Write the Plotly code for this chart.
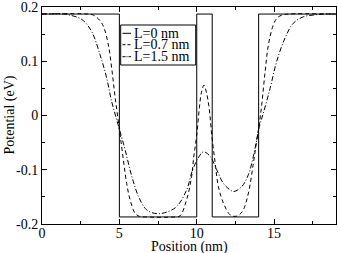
import plotly.graph_objects as go

labels = ["L=0 nm", "L=0.7 nm", "L=1.5 nm"]
x_title = "Position (nm)"
y_title = "Potential (eV)"

x_L0 = [0, 5, 5, 10, 10, 11, 11, 14, 14, 19]
y_L0 = [0.187, 0.187, -0.187, -0.187, 0.187, 0.187, -0.187, -0.187, 0.187, 0.187]

x_L07 = [0, 3.0, 3.32, 3.65, 3.96, 4.29, 4.5, 4.72, 5.0, 5.26, 5.47, 5.69, 6.01, 6.3, 6.7,
         8.6, 8.92, 9.35, 9.67, 9.8, 10.0, 10.17, 10.3, 10.47, 10.63, 10.8, 10.97, 11.18,
         11.4, 11.72, 12.15, 12.48, 12.75, 13.01, 13.34, 13.66, 13.88, 14.05, 14.2, 14.42,
         14.63, 14.95, 15.2, 15.5, 15.9, 19]
y_L07 = [0.187, 0.187, 0.185, 0.178, 0.165, 0.13, 0.088, 0.035, -0.025, -0.082, -0.125,
         -0.155, -0.18, -0.186, -0.187, -0.187, -0.185, -0.155, -0.112, -0.078, -0.036,
         0.014, 0.042, 0.056, 0.042, 0.014, -0.036, -0.085, -0.131, -0.161, -0.183, -0.186,
         -0.183, -0.174, -0.143, -0.088, -0.045, -0.014, 0.02, 0.081, 0.13, 0.167, 0.18,
         0.185, 0.187, 0.187]

x_L15 = [0, 1.5, 1.81, 2.3, 2.67, 3.21, 3.75, 4.18, 4.5, 4.83, 5.0, 5.37, 5.8, 6.23, 6.66,
         7.0, 7.5, 8.06, 8.7, 9.35, 9.7, 10.1, 10.43, 10.86, 11.29, 11.72, 12.15, 12.41,
         12.91, 13.34, 13.66, 13.88, 14.05, 14.3, 14.74, 15.17, 15.71, 16.24, 16.89, 17.5,
         18.2, 19]
y_L15 = [0.187, 0.187, 0.185, 0.181, 0.175, 0.155, 0.112, 0.069, 0.026, -0.008, -0.025,
         -0.063, -0.112, -0.149, -0.171, -0.178, -0.181, -0.178, -0.168, -0.137, -0.103,
         -0.078, -0.067, -0.075, -0.1, -0.125, -0.137, -0.14, -0.131, -0.109, -0.075,
         -0.045, -0.02, 0.004, 0.05, 0.1, 0.143, 0.17, 0.182, 0.185, 0.187, 0.187]

x_ticks = [0, 5, 10, 15]
y_ticks = [-0.2, -0.1, 0, 0.1, 0.2]
y_ticktext = ["-0.2", "-0.1", "0", "0.1", "0.2"]

FONT = "Liberation Serif, Times New Roman, serif"
dashes = ["solid", "4px,3px", "5px,2px,1px,2px"]
legend_dashes = ["solid", "3px,2px", "3px,1px,1px,1px"]
series = [(x_L0, y_L0), (x_L07, y_L07), (x_L15, y_L15)]

fig = go.Figure()
for (xs, ys), name, d in zip(series, labels, dashes):
    fig.add_trace(go.Scatter(x=xs, y=ys, mode="lines", name=name,
                             line=dict(color="black", width=1, dash=d),
                             line_shape="linear" if name == labels[0] else "spline",
                             showlegend=False, hoverinfo="skip"))

# pixel -> paper helpers for the plot area
W, H, L, T = 294, 217, 42, 7
def px(xp):
    return (xp - L) / W
def py(yp):
    return (T + H - yp) / H

# custom legend
fig.add_shape(type="rect", xref="paper", yref="paper",
              x0=px(120.7), x1=px(195.7), y0=py(65), y1=py(25),
              line=dict(color="black", width=1), fillcolor="white", layer="above")
entry_y = [33.3, 44.7, 56.7]
for name, d, ey in zip(labels, legend_dashes, entry_y):
    fig.add_shape(type="line", xref="paper", yref="paper",
                  x0=px(122.5), x1=px(131), y0=py(ey), y1=py(ey),
                  line=dict(color="black", width=1, dash=d), layer="above")
    fig.add_annotation(xref="paper", yref="paper", x=px(132.5), y=py(ey), text=name,
                       showarrow=False, xanchor="left", yanchor="middle", borderpad=0,
                       font=dict(family=FONT, size=14, color="black"))

# axis titles
fig.add_annotation(xref="paper", yref="paper", x=px(189), y=py(247), text=x_title,
                   showarrow=False, xanchor="center", yanchor="middle", borderpad=0,
                   font=dict(family=FONT, size=14, color="black"))
fig.add_annotation(xref="paper", yref="paper", x=px(9.5), y=py(115), text=y_title,
                   showarrow=False, xanchor="center", yanchor="middle", borderpad=0,
                   textangle=-90, font=dict(family=FONT, size=14, color="black"))

axis_common = dict(showline=True, linecolor="black", linewidth=1, mirror="allticks",
                   ticks="inside", ticklen=5, tickcolor="black", tickwidth=1,
                   showgrid=False, zeroline=False, automargin=False,
                   ticklabeloverflow="allow",
                   tickfont=dict(family=FONT, size=14, color="black"))

fig.update_xaxes(range=[0, 19], tickvals=x_ticks, ticklabelstandoff=-4,
                 minor=dict(ticks="inside", ticklen=3, dtick=2.5, tick0=0, tickcolor="black", showgrid=False),
                 **axis_common)
fig.update_yaxes(range=[-0.2, 0.2], tickvals=y_ticks, ticktext=y_ticktext,
                 minor=dict(ticks="inside", ticklen=3, dtick=0.05, tick0=0, tickcolor="black", showgrid=False),
                 **axis_common)

fig.update_layout(width=338, height=253, margin=dict(l=42, r=2, t=7, b=29),
                  plot_bgcolor="white", paper_bgcolor="white", hovermode=False,
                  font=dict(family=FONT, size=14, color="black"))

fig.write_html("out.html", config={"displayModeBar": False, "staticPlot": True},
               post_script="document.body.style.margin='0px';document.body.style.overflow='hidden';")
